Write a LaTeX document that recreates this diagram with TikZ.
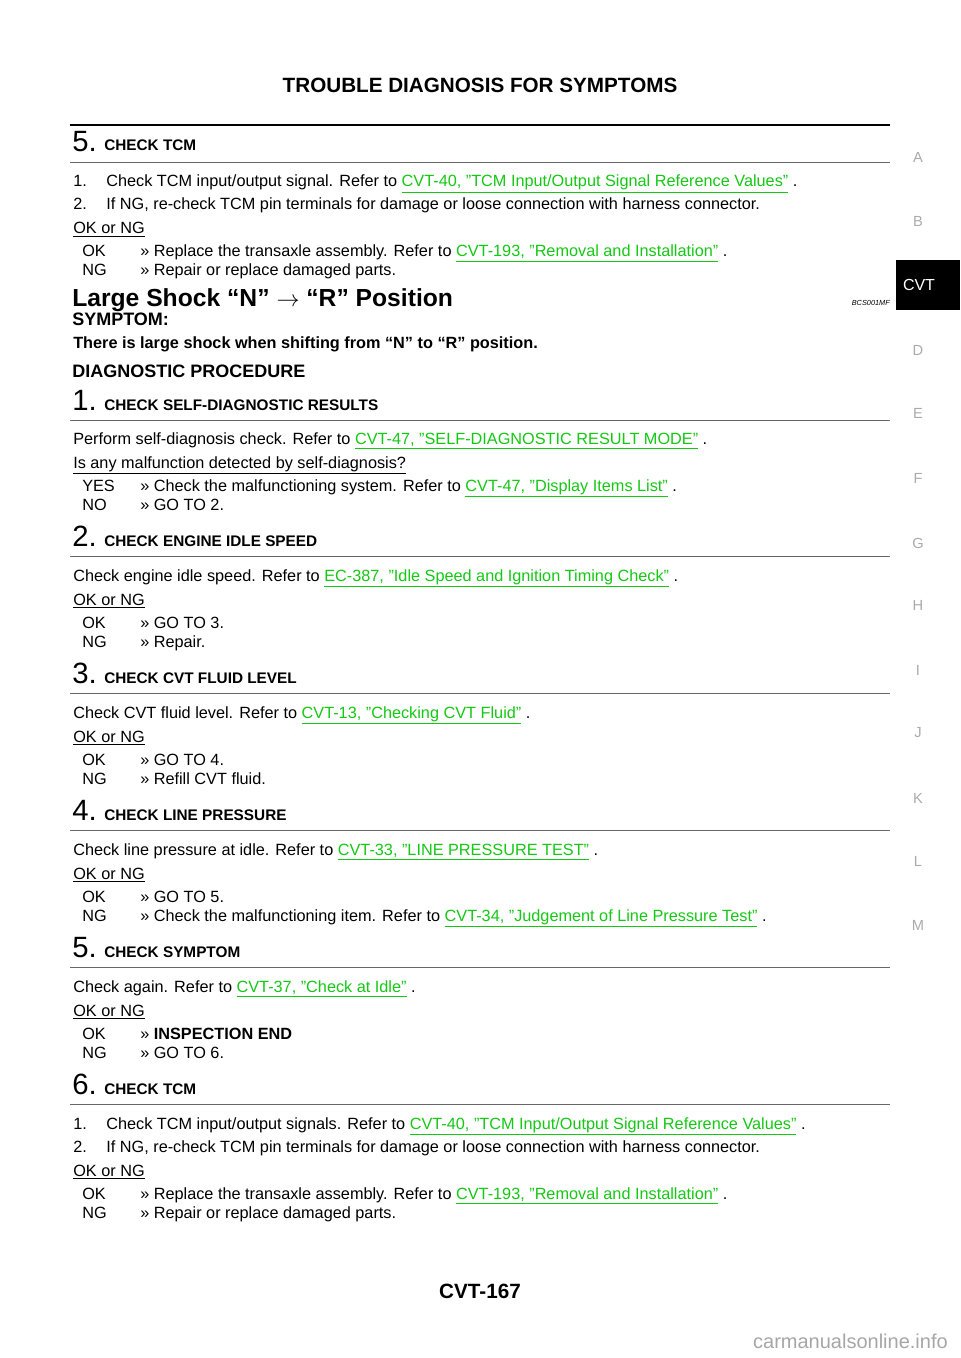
\documentclass[tikz,border=0pt]{standalone}
\usepackage{fontspec}
\setmainfont{Liberation Sans}
\usepackage{xcolor}
\definecolor{linkgreen}{RGB}{20,200,20}
\definecolor{sidegray}{RGB}{170,170,170}
\newcommand{\lnk}[1]{{\color{linkgreen}\underline{#1}}}
\newcommand{\stephead}[4]{%
  \node[stepnum] (#1n) at (72,#2) {#3.};
  \node[stephd] (#1h) at (104,#2) {#4};
  \draw[thin, gray!80!black] (70,#2+10) -- (890,#2+10);}
\tikzset{
  body/.style={anchor=base west, inner sep=0pt, font=\fontsize{12.2}{14}\selectfont},
  stepnum/.style={anchor=base west, inner sep=0pt, font=\fontsize{22}{24}\selectfont},
  stephd/.style={anchor=base west, inner sep=0pt, font=\fontsize{11.5}{13}\selectfont\bfseries},
  side/.style={inner sep=0pt, text=sidegray, font=\fontsize{11}{12}\selectfont}
}
\begin{document}
\begin{tikzpicture}[x=0.75pt, y=-0.75pt]
\useasboundingbox (0,0) rectangle (960,1358);
\node[font=\fontsize{15.5}{17}\selectfont\bfseries, anchor=base] (title) at (480,93) {TROUBLE DIAGNOSIS FOR SYMPTOMS};
\draw[line width=1.8pt] (70,125) -- (890,125);

% previous step
\node[stepnum] (tn) at (72,152) {5.};
\node[stephd] (th) at (104,151) {CHECK TCM};
\draw[thin, gray!80!black] (70,162) -- (890,162);
\node[body] (ta) at (73,187) {1.\hspace{1.2em}Check TCM input/output signal. Refer to \lnk{CVT-40, "TCM Input/Output Signal Reference Values"} .};
\node[body] (tb) at (73,210) {2.\hspace{1.2em}If NG, re-check TCM pin terminals for damage or loose connection with harness connector.};
\node[body] (tc) at (73,234) {\underline{OK or NG}};
\node[body] (td) at (82,257) {OK};
\node[body] (te) at (140,257) {>> Replace the transaxle assembly. Refer to \lnk{CVT-193, "Removal and Installation"} .};
\node[body] (tf) at (82,276) {NG};
\node[body] (tg) at (140,276) {>> Repair or replace damaged parts.};

% section
\node[anchor=base west, inner sep=0pt, font=\fontsize{18.5}{20}\selectfont\bfseries] (shock) at (72,307) {Large Shock “N” $\rightarrow$ “R” Position};
\node[anchor=base east, inner sep=0pt, font=\fontsize{5.5}{6}\selectfont\itshape] (code) at (890,306) {BCS001MF};
\node[anchor=base west, inner sep=0pt, font=\fontsize{13.5}{15}\selectfont\bfseries] (symp) at (72,326) {SYMPTOM:};
\node[body, font=\fontsize{12.2}{14}\selectfont\bfseries] (sympt) at (73,349) {There is large shock when shifting from “N” to “R” position.};
\node[anchor=base west, inner sep=0pt, font=\fontsize{13.5}{15}\selectfont\bfseries] (diag) at (72,378) {DIAGNOSTIC PROCEDURE};

\stephead{s1}{410}{1}{CHECK SELF-DIAGNOSTIC RESULTS}
\node[body] (s1a) at (73,444) {Perform self-diagnosis check. Refer to \lnk{CVT-47, "SELF-DIAGNOSTIC RESULT MODE"} .};
\node[body] (s1b) at (73,468) {\underline{Is any malfunction detected by self-diagnosis?}};
\node[body] (s1c) at (82,491) {YES};
\node[body] (s1d) at (140,491) {>> Check the malfunctioning system. Refer to \lnk{CVT-47, "Display Items List"} .};
\node[body] (s1e) at (82,510) {NO};
\node[body] (s1f) at (140,510) {>> GO TO 2.};

\stephead{s2}{546}{2}{CHECK ENGINE IDLE SPEED}
\node[body] (s2a) at (73,581) {Check engine idle speed. Refer to \lnk{EC-387, "Idle Speed and Ignition Timing Check"} .};
\node[body] (s2b) at (73,605) {\underline{OK or NG}};
\node[body] (s2c) at (82,628) {OK};
\node[body] (s2d) at (140,628) {>> GO TO 3.};
\node[body] (s2e) at (82,647) {NG};
\node[body] (s2f) at (140,647) {>> Repair.};

\stephead{s3}{683}{3}{CHECK CVT FLUID LEVEL}
\node[body] (s3a) at (73,718) {Check CVT fluid level. Refer to \lnk{CVT-13, "Checking CVT Fluid"} .};
\node[body] (s3b) at (73,742) {\underline{OK or NG}};
\node[body] (s3c) at (82,765) {OK};
\node[body] (s3d) at (140,765) {>> GO TO 4.};
\node[body] (s3e) at (82,784) {NG};
\node[body] (s3f) at (140,784) {>> Refill CVT fluid.};

\stephead{s4}{820}{4}{CHECK LINE PRESSURE}
\node[body] (s4a) at (73,855) {Check line pressure at idle. Refer to \lnk{CVT-33, "LINE PRESSURE TEST"} .};
\node[body] (s4b) at (73,879) {\underline{OK or NG}};
\node[body] (s4c) at (82,902) {OK};
\node[body] (s4d) at (140,902) {>> GO TO 5.};
\node[body] (s4e) at (82,921) {NG};
\node[body] (s4f) at (140,921) {>> Check the malfunctioning item. Refer to \lnk{CVT-34, "Judgement of Line Pressure Test"} .};

\stephead{s5}{957}{5}{CHECK SYMPTOM}
\node[body] (s5a) at (73,992) {Check again. Refer to \lnk{CVT-37, "Check at Idle"} .};
\node[body] (s5b) at (73,1016) {\underline{OK or NG}};
\node[body] (s5c) at (82,1039) {OK};
\node[body] (s5d) at (140,1039) {>> \textbf{INSPECTION END}};
\node[body] (s5e) at (82,1058) {NG};
\node[body] (s5f) at (140,1058) {>> GO TO 6.};

\stephead{s6}{1094}{6}{CHECK TCM}
\node[body] (s6a) at (73,1129) {1.\hspace{1.2em}Check TCM input/output signals. Refer to \lnk{CVT-40, "TCM Input/Output Signal Reference Values"} .};
\node[body] (s6b) at (73,1152) {2.\hspace{1.2em}If NG, re-check TCM pin terminals for damage or loose connection with harness connector.};
\node[body] (s6c) at (73,1176) {\underline{OK or NG}};
\node[body] (s6d) at (82,1199) {OK};
\node[body] (s6e) at (140,1199) {>> Replace the transaxle assembly. Refer to \lnk{CVT-193, "Removal and Installation"} .};
\node[body] (s6f) at (82,1218) {NG};
\node[body] (s6g) at (140,1218) {>> Repair or replace damaged parts.};

\node[font=\fontsize{15.5}{17}\selectfont\bfseries, anchor=base] (page) at (480,1298) {CVT-167};

% side tabs
\foreach \l/\y in {A/157,B/221,D/350,E/413,F/478,G/543,H/605,I/670,J/733,K/798,L/861,M/925}
  \node[side] (tab\l) at (918,\y) {\l};
\fill (896,260) rectangle (960,310);
\node[inner sep=0pt, text=white, font=\fontsize{12}{13}\selectfont] (tabCVT) at (919,285) {CVT};

\node[anchor=base east, inner sep=0pt, text=gray!70, font=\fontsize{15}{16}\selectfont] (mark) at (948,1348) {carmanualsonline.info};
\end{tikzpicture}
\end{document}
